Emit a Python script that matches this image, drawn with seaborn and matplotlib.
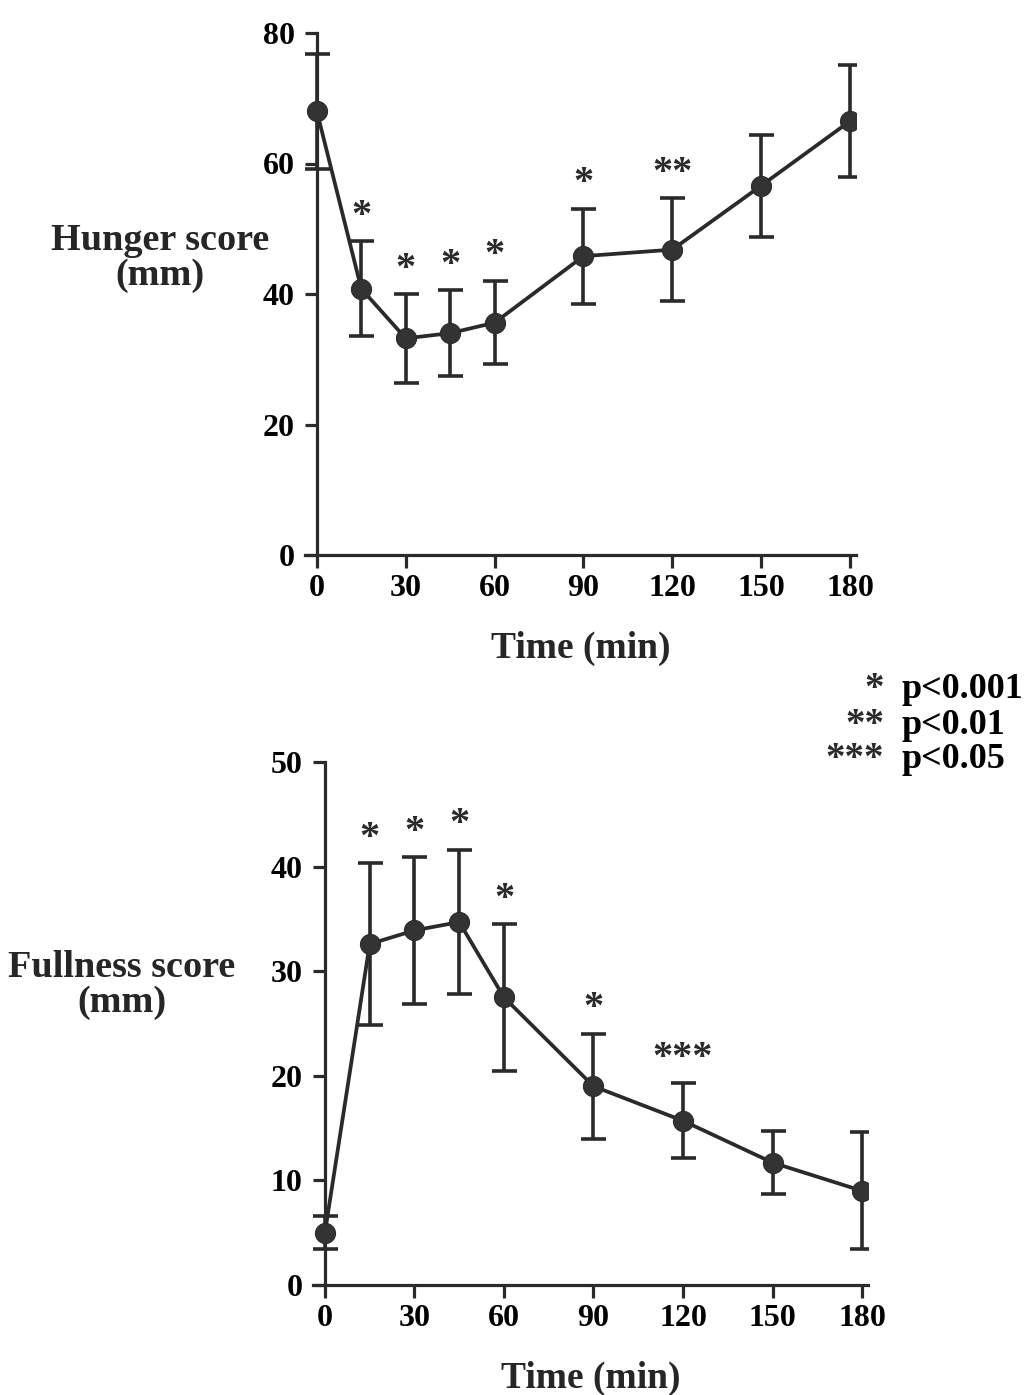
import matplotlib
matplotlib.use("Agg")
import matplotlib.pyplot as plt
import seaborn as sns
import pandas as pd

# ---- data ----
time_min = [0, 15, 30, 45, 60, 90, 120, 150, 180]
hunger_mean = [68, 40.8, 33.2, 34.0, 35.6, 45.8, 46.8, 56.6, 66.5]
hunger_sem = [8.8, 7.3, 6.8, 6.6, 6.4, 7.3, 7.9, 7.8, 8.6]
hunger_sig = ["", "*", "*", "*", "*", "*", "**", "", ""]

fullness_mean = [5.0, 32.6, 33.9, 34.7, 27.5, 19.0, 15.7, 11.7, 9.0]
fullness_sem = [1.6, 7.7, 7.0, 6.9, 7.0, 5.0, 3.6, 3.0, 5.6]
fullness_sig = ["", "*", "*", "*", "*", "*", "***", "", ""]

x_ticks = [0, 30, 60, 90, 120, 150, 180]
hunger_yticks = [0, 20, 40, 60, 80]
fullness_yticks = [0, 10, 20, 30, 40, 50]
legend_marks = ["*", "**", "***"]
legend_texts = ["p<0.001", "p<0.01", "p<0.05"]

sns.set_style("ticks")
plt.rcParams["font.family"] = ["Liberation Serif", "DejaVu Serif"]
plt.rcParams["font.weight"] = "bold"

INK = "#2a2a2a"
fig = plt.figure(figsize=(10.30, 13.95), dpi=100)

ax1 = fig.add_axes([305 / 1030, 1 - 555 / 1395, (856 - 305) / 1030, (555 - 33) / 1395])
ax2 = fig.add_axes([313 / 1030, 1 - 1285 / 1395, (868 - 313) / 1030, (1285 - 762) / 1395])


def panel(ax, mean, sem, sig, yticks, ylabel, ylabel_xy):
    df = pd.DataFrame({"t": time_min, "v": mean})
    ax.errorbar(time_min, mean, yerr=sem, fmt="none", ecolor=INK,
                elinewidth=2.6, capsize=9, capthick=2.6, zorder=2)
    sns.lineplot(data=df, x="t", y="v", ax=ax, color=INK, linewidth=2.7,
                 marker="o", markersize=14.5, markeredgecolor=INK,
                 markerfacecolor="#333333", zorder=3)
    for t, m, s, lab in zip(time_min, mean, sem, sig):
        if lab:
            ax.annotate(lab, (t, m + s), xytext=(0, 18), textcoords="offset points",
                        ha="center", va="center", fontsize=29, fontweight="bold",
                        color=INK)
    ax.set_xlim(-4, 182)
    ax.set_ylim(0, yticks[-1])
    ax.set_xticks(x_ticks)
    ax.set_yticks(yticks)
    ax.spines["left"].set_position(("data", 0))
    ax.spines["top"].set_visible(False)
    ax.spines["right"].set_visible(False)
    for sp in ("left", "bottom"):
        ax.spines[sp].set_linewidth(2.3)
        ax.spines[sp].set_color(INK)
    ax.tick_params(axis="both", length=9, width=2.3, color=INK, labelsize=23,
                   labelcolor="black")
    ax.tick_params(axis="y", pad=7)
    ax.tick_params(axis="x", pad=5)
    for lbl in ax.get_xticklabels() + ax.get_yticklabels():
        lbl.set_fontweight("bold")
    ax.set_xlabel("Time (min)", fontsize=27, fontweight="bold", labelpad=20)
    ax.set_ylabel(ylabel, fontsize=27.5, fontweight="bold", rotation=0,
                  ha="center", va="center", linespacing=1.0)
    ax.yaxis.set_label_coords(*ylabel_xy)


panel(ax1, hunger_mean, hunger_sem, hunger_sig, hunger_yticks,
      "Hunger score\n(mm)", (-0.263, 0.569))
panel(ax2, fullness_mean, fullness_sem, fullness_sig, fullness_yticks,
      "Fullness score\n(mm)", (-0.344, 0.574))

for i, (mk, tx) in enumerate(zip(legend_marks, legend_texts)):
    y = 1 - (690 + 35 * i) / 1395
    fig.text(884 / 1030, y, mk, ha="right", va="center", fontsize=28,
             fontweight="bold", color=INK)
    fig.text(902 / 1030, y, tx, ha="left", va="center", fontsize=26,
             fontweight="bold", color="black")

fig.savefig("out.png", dpi=100, facecolor="white")
